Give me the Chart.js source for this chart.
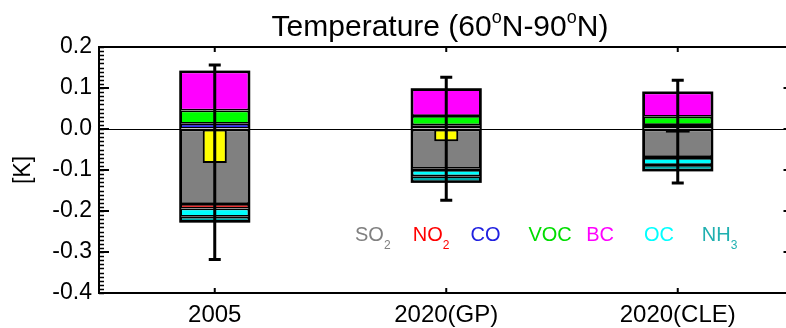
<!DOCTYPE html>
<html>
<head>
<meta charset="utf-8">
<title>Temperature (60°N-90°N)</title>
<script src="https://cdn.jsdelivr.net/npm/chart.js@4.4.0/dist/chart.umd.min.js"></script>
<style>
  html, body { margin: 0; padding: 0; background: #fff; overflow: hidden; }
  #wrap { width: 800px; height: 328px; }
</style>
</head>
<body>
<div id="wrap"><canvas id="temp-chart"></canvas></div>
<script>
// Values, in K
const categories = ["2005", "2020(GP)", "2020(CLE)"];
const so2 = [-0.183, -0.097, -0.068];
const no2 = [-0.011, -0.003, -0.003];
const co = [0.013, 0.009, 0.010];
const voc = [0.032, 0.023, 0.020];
const bc = [0.095, 0.065, 0.059];
const oc = [-0.020, -0.015, -0.017];
const nh3 = [-0.012, -0.014, -0.013];
const net = [-0.083, -0.030, -0.009];
const errHigh = [0.156, 0.126, 0.119];
const errLow = [-0.318, -0.174, -0.132];

const yTicks = [-0.4, -0.3, -0.2, -0.1, 0.0, 0.1, 0.2];
const yMinorStep = 0.01;

const legendNames = ["SO", "NO", "CO", "VOC", "BC", "OC", "NH"];
const legendSubs = ["2", "2", "", "", "", "", "3"];

const colors = {
    so2: "#808080",
    no2: "#ff0000",
    co: "#0000ff",
    voc: "#00ff00",
    bc: "#ff00ff",
    oc: "#00ffff",
    nh3: "#00a8a8",
    net: "#ffff00",
};
const legendColors = [colors.so2, colors.no2, "#2020e0", "#00dd00", colors.bc, colors.oc, "#20b0b0"];

const FONT = "'Liberation Sans', Arial, Helvetica, sans-serif";
Chart.defaults.font.family = FONT;
Chart.defaults.color = "#000";

// write text made of normal / raised / lowered pieces
const drawPieces = (ctx, pieces, x, y, size, color) => {
    ctx.fillStyle = color;
    ctx.textBaseline = "alphabetic";
    ctx.textAlign = "left";
    let cx = x;
    pieces.forEach(([txt, shift]) => {
        const s = shift === 0 ? size : Math.round(size * 0.6);
        ctx.font = `${s}px ${FONT}`;
        const dy = shift > 0 ? -size * 0.42 : shift < 0 ? size * 0.42 : 0;
        ctx.fillText(txt, cx, y + dy);
        cx += ctx.measureText(txt).width;
    });
    return cx - x;
};

const measurePieces = (ctx, pieces, size) => {
    let w = 0;
    pieces.forEach(([txt, shift]) => {
        const s = shift === 0 ? size : Math.round(size * 0.6);
        ctx.font = `${s}px ${FONT}`;
        w += ctx.measureText(txt).width;
    });
    return w;
};

// outline of each column + error bars
const columnExtras = {
    id: "columnExtras",
    afterDatasetsDraw(chart) {
        const { ctx } = chart;
        const x = chart.scales.x;
        const y = chart.scales.y;
        const metas = chart.getSortedVisibleDatasetMetas().filter((m) => m.xAxisID === "x");
        ctx.save();
        ctx.strokeStyle = "#000";
        categories.forEach((c, i) => {
            let top = Infinity, bottom = -Infinity, left = 0, right = 0;
            metas.forEach((m) => {
                const b = m.data[i];
                top = Math.min(top, b.y, b.base);
                bottom = Math.max(bottom, b.y, b.base);
                left = b.x - b.width / 2;
                right = b.x + b.width / 2;
            });
            ctx.lineWidth = 2;
            ctx.strokeRect(left, top, right - left, bottom - top);
        });

        ctx.lineWidth = 3;
        ctx.lineCap = "butt";
        categories.forEach((c, i) => {
            const px = x.getPixelForValue(i);
            const hi = y.getPixelForValue(errHigh[i]);
            const lo = y.getPixelForValue(errLow[i]);
            ctx.beginPath();
            ctx.moveTo(px, hi);
            ctx.lineTo(px, lo);
            ctx.moveTo(px - 6, hi);
            ctx.lineTo(px + 6, hi);
            ctx.moveTo(px - 6, lo);
            ctx.lineTo(px + 6, lo);
            ctx.stroke();
        });
        ctx.restore();
    },
};

// IDL style frame with inward ticks, title and text legend
const frame = {
    id: "frame",
    afterDraw(chart) {
        const { ctx, chartArea: a } = chart;
        const x = chart.scales.x;
        const y = chart.scales.y;
        ctx.save();
        ctx.strokeStyle = "#000";
        ctx.lineWidth = 2;
        ctx.strokeRect(a.left, a.top, a.right - a.left, a.bottom - a.top);

        ctx.beginPath();
        ctx.lineWidth = 1.5;
        const nMinor = Math.round((y.max - y.min) / yMinorStep);
        for (let k = 0; k <= nMinor; k++) {
            const py = Math.round(y.getPixelForValue(y.min + k * yMinorStep)) + 0.5;
            ctx.moveTo(a.left, py);
            ctx.lineTo(a.left + 5, py);
            ctx.moveTo(a.right, py);
            ctx.lineTo(a.right - 5, py);
        }
        ctx.stroke();

        ctx.beginPath();
        ctx.lineWidth = 2;
        yTicks.forEach((v) => {
            const py = y.getPixelForValue(v);
            ctx.moveTo(a.left, py);
            ctx.lineTo(a.left + 10, py);
            ctx.moveTo(a.right, py);
            ctx.lineTo(a.right - 10, py);
        });
        categories.forEach((c, i) => {
            const px = x.getPixelForValue(i);
            ctx.moveTo(px, a.bottom);
            ctx.lineTo(px, a.bottom - 5);
            ctx.moveTo(px, a.top);
            ctx.lineTo(px, a.top + 5);
        });
        ctx.stroke();

        // title
        const titlePieces = [["Temperature (60", 0], ["o", 1], ["N-90", 0], ["o", 1], ["N)", 0]];
        const tSize = 30;
        const tw = measurePieces(ctx, titlePieces, tSize);
        drawPieces(ctx, titlePieces, 440 - tw / 2, 36, tSize, "#000");

        // legend
        legendNames.forEach((name, i) => {
            const pieces = [[name, 0]];
            if (legendSubs[i]) pieces.push([legendSubs[i], -1]);
            drawPieces(ctx, pieces, 355 + i * 57.8, 241, 20, legendColors[i]);
        });
        ctx.restore();
    },
};

const makeSet = (label, data, color) => ({
    label: label,
    data: data,
    backgroundColor: color,
    borderColor: "#000",
    borderWidth: 1.75,
    borderSkipped: false,
    grouped: false,
    categoryPercentage: 1,
    barPercentage: 0.298,
    xAxisID: "x",
    stack: "parts",
    order: 1,
});

const chart = new Chart(document.getElementById("temp-chart"), {
    type: "bar",
    data: {
        labels: categories,
        datasets: [
            {
                label: "net",
                data: net,
                backgroundColor: colors.net,
                borderColor: "#000",
                borderWidth: 2,
                borderSkipped: false,
                grouped: false,
                categoryPercentage: 1,
                barPercentage: 0.104,
                xAxisID: "x2",
                stack: "net",
                order: 0,
            },
            makeSet("SO2", so2, colors.so2),
            makeSet("NO2", no2, colors.no2),
            makeSet("CO", co, colors.co),
            makeSet("VOC", voc, colors.voc),
            makeSet("BC", bc, colors.bc),
            makeSet("OC", oc, colors.oc),
            makeSet("NH3", nh3, colors.nh3),
        ],
    },
    options: {
        responsive: true,
        maintainAspectRatio: false,
        animation: false,
        layout: {
            padding: { top: 47, right: 6.5, left: 0, bottom: 0 },
        },
        scales: {
            x: {
                type: "category",
                offset: true,
                stacked: true,
                grid: { display: false, drawTicks: false },
                border: { display: false },
                ticks: { font: { size: 24 }, color: "#000", padding: 8, maxRotation: 0 },
                afterFit: (s) => { s.height = 35; },
            },
            x2: {
                type: "category",
                offset: true,
                stacked: true,
                display: false,
                grid: { display: false },
            },
            y: {
                stacked: true,
                min: -0.4,
                max: 0.2,
                afterBuildTicks: (s) => { s.ticks = yTicks.map((v) => ({ value: v })); },
                afterFit: (s) => { s.width = 99; },
                grid: {
                    drawTicks: false,
                    lineWidth: 1,
                    color: (c) => (c.tick && c.tick.value === 0 ? "#000" : "rgba(0,0,0,0)"),
                },
                border: { display: false },
                ticks: {
                    font: { size: 23 },
                    color: "#000",
                    padding: 7,
                    callback: (v) => Number(v).toFixed(1),
                },
                title: {
                    display: true,
                    text: "[K]",
                    font: { size: 23 },
                    color: "#000",
                    padding: { top: 10, bottom: 0 },
                },
            },
        },
        plugins: {
            legend: { display: false },
            tooltip: { enabled: false },
            title: { display: false },
        },
    },
    plugins: [columnExtras, frame],
});
</script>
</body>
</html>
